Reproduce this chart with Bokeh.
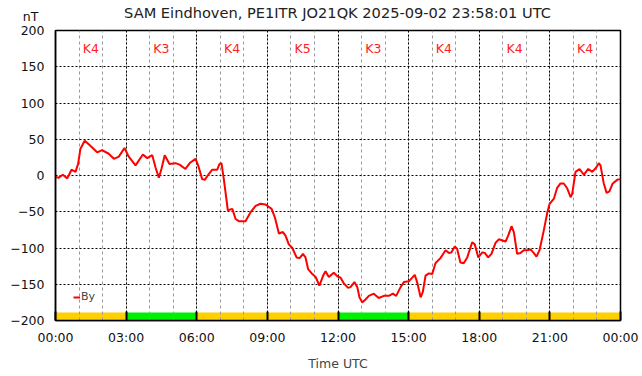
from bokeh.plotting import figure
from bokeh.models import (Range1d, FixedTicker, Label, Legend, LegendItem,
                          ColumnDataSource)
from bokeh.core.properties import value
from bokeh.embed import file_html
from bokeh.resources import INLINE

# ---- data ----
hours = [0.00, 0.14, 0.31, 0.50, 0.68, 0.85, 0.96, 1.06, 1.24, 1.41, 1.58, 1.77,
         1.98, 2.26, 2.48, 2.69, 2.93, 3.11, 3.40, 3.71, 3.90, 4.11, 4.25, 4.39,
         4.50, 4.64, 4.84, 5.10, 5.27, 5.52, 5.73, 5.95, 6.06, 6.23, 6.34, 6.51,
         6.66, 6.87, 6.97, 7.05, 7.15, 7.25, 7.32, 7.51, 7.65, 7.79, 8.07, 8.28,
         8.50, 8.71, 8.92, 9.18, 9.32, 9.49, 9.66, 9.77, 9.91, 10.06, 10.24, 10.37,
         10.51, 10.62, 10.73, 10.91, 11.05, 11.21, 11.37, 11.47, 11.61, 11.82, 11.97,
         12.11, 12.25, 12.43, 12.53, 12.70, 12.82, 12.91, 13.03, 13.17, 13.31, 13.52,
         13.73, 13.95, 14.16, 14.33, 14.47, 14.66, 14.80, 15.01, 15.26, 15.36, 15.51,
         15.60, 15.72, 15.86, 16.00, 16.14, 16.35, 16.57, 16.71, 16.82, 16.96, 17.06,
         17.20, 17.34, 17.49, 17.70, 17.81, 17.96, 18.13, 18.24, 18.38, 18.52, 18.69,
         18.83, 19.12, 19.23, 19.37, 19.47, 19.61, 19.75, 19.89, 20.04, 20.18, 20.32,
         20.43, 20.56, 20.74, 20.89, 20.99, 21.17, 21.31, 21.45, 21.59, 21.74, 21.88,
         21.95, 22.09, 22.26, 22.44, 22.63, 22.80, 22.97, 23.08, 23.15, 23.29, 23.41,
         23.53, 23.67, 23.86, 24.00]
by_nt = [-2, -3, 1, -4, 8, 5, 16, 37, 48, 43, 38, 32,
         35, 30, 23, 26, 38, 26, 14, 29, 24, 28, 11, -3,
         9, 28, 16, 17, 15, 9, 18, 23, 14, -5, -6, 2,
         8, 8, 16, 17, -5, -30, -48, -46, -60, -63, -63, -51,
         -42, -39, -40, -46, -58, -80, -78, -83, -95, -100, -113, -114,
         -108, -113, -129, -136, -140, -152, -138, -132, -140, -134, -139,
         -141, -149, -155, -154, -147, -154, -168, -175, -171, -166, -163,
         -169, -166, -166, -163, -166, -154, -147, -146, -137, -147, -168,
         -161, -138, -135, -136, -121, -114, -103, -107, -106, -98, -101,
         -120, -121, -113, -92, -95, -113, -106, -107, -113, -108, -93,
         -88, -91, -83, -70, -78, -108, -107, -103, -103, -102, -107,
         -112, -103, -76, -51, -39, -32, -17, -11, -11, -18, -30,
         -25, 5, 9, 1, 9, 5, 11, 17, 14, -11, -24,
         -22, -11, -6, -5]

k_start = [0, 3, 6, 9, 12, 15, 18, 21]
k_index = [4, 3, 4, 5, 3, 4, 4, 4]
k_labels = ["K4", "K3", "K4", "K5", "K3", "K4", "K4", "K4"]

x_ticks = [0, 3, 6, 9, 12, 15, 18, 21, 24]
x_tick_labels = ["00:00", "03:00", "06:00", "09:00", "12:00", "15:00", "18:00", "21:00", "00:00"]
y_ticks = [-200, -150, -100, -50, 0, 50, 100, 150, 200]

title_text = "SAM Eindhoven, PE1ITR JO21QK 2025-09-02 23:58:01 UTC"
y_unit = "nT"

FONT = "DejaVu Sans"

p = figure(width=642, height=376, output_backend="svg", toolbar_location=None,
           x_range=Range1d(0, 24), y_range=Range1d(-200, 200),
           title_location=None,
           min_border_left=55, min_border_right=22, min_border_top=30,
           min_border_bottom=56)
p.background_fill_color = "white"
p.border_fill_color = "white"
p.outline_line_color = "black"
p.outline_line_width = 1.5

# title, as a label in the top side panel (canvas units)
p.add_layout(Label(x=337, y=12, x_units="canvas", y_units="canvas", text=title_text,
                   text_font=FONT, text_font_size="14.6px",
                   text_align="center", text_baseline="middle", text_color="#222222"),
             "above")

# K-index bar at the bottom
k_color = ["#00f000" if k <= 3 else "#ffd000" for k in k_index]
k_src = ColumnDataSource(dict(left=k_start, right=[s + 3 for s in k_start],
                              color=k_color,
                              mid=[s + 1.5 for s in k_start],
                              lab=k_labels, ytop=[175] * len(k_start)))
p.quad(left="left", right="right", bottom=-200, top=-189, fill_color="color",
       line_color=None, source=k_src, level="image")

# K labels
p.text(x="mid", y="ytop", text="lab", source=k_src, text_color="#ff2020",
       text_font=value(FONT), text_font_size="12.5px", text_align="center",
       text_baseline="middle")

# data line
r = p.line(hours, by_nt, line_color="#ff0000", line_width=2)

# axes
for ax in (p.xaxis[0], p.yaxis[0]):
    ax.axis_line_color = "black"
    ax.axis_line_width = 1.5
    ax.major_label_text_font = FONT
    ax.major_label_text_font_size = "12.5px"
    ax.major_label_text_color = "#111111"
    ax.major_tick_out = 0
    ax.minor_tick_in = 0
    ax.minor_tick_out = 0

p.xaxis.ticker = FixedTicker(ticks=x_ticks, minor_ticks=list(range(0, 25)))
p.xaxis.major_label_overrides = {t: l for t, l in zip(x_ticks, x_tick_labels)}
p.xaxis.major_tick_in = 9
p.xaxis.major_tick_line_width = 2
p.xaxis.major_label_standoff = 9
p.xaxis.axis_label = "Time UTC"
p.xaxis.axis_label_text_font = FONT
p.xaxis.axis_label_text_font_size = "12.5px"
p.xaxis.axis_label_text_font_style = "normal"
p.xaxis.axis_label_standoff = 8

p.yaxis.ticker = FixedTicker(ticks=y_ticks)
p.yaxis.major_tick_in = 0
p.yaxis.major_label_standoff = 11

# grids
p.xgrid.grid_line_color = "black"
p.xgrid.grid_line_dash = "2 2"
p.xgrid.grid_line_width = 1
p.xgrid.minor_grid_line_color = "#999999"
p.xgrid.minor_grid_line_dash = "3 3"
p.xgrid.minor_grid_line_width = 1
p.ygrid.grid_line_color = "black"
p.ygrid.grid_line_dash = "2 2"
p.ygrid.grid_line_width = 1

# nT label placed in a right side panel (canvas units), so it is not clipped
p.add_layout(Label(x=30, y=16, x_units="canvas", y_units="canvas", text=y_unit,
                   text_font=FONT, text_font_size="12.5px",
                   text_align="center", text_baseline="middle", text_color="#111111"),
             "right")

# legend
legend = Legend(items=[LegendItem(label="By", renderers=[r])], location=(18, 17),
                background_fill_alpha=0, border_line_color=None, padding=0, margin=0,
                glyph_width=7, glyph_height=10, label_standoff=1,
                label_text_font=FONT, label_text_font_size="11px", spacing=0)
p.add_layout(legend)

open("out.html", "w").write(file_html(p, INLINE))
